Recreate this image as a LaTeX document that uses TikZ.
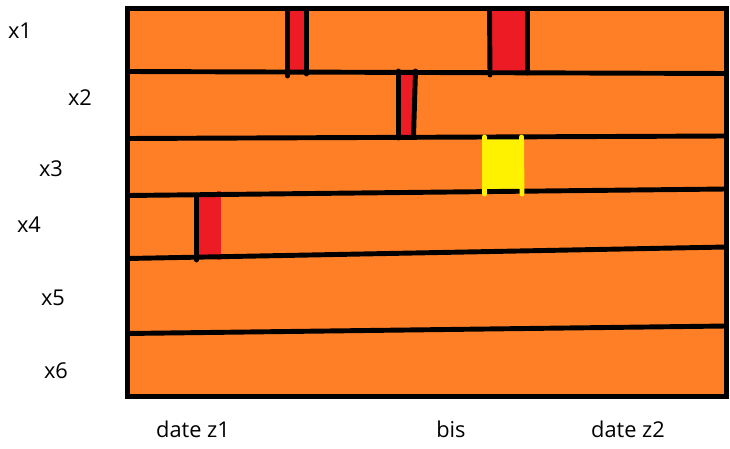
\documentclass[tikz,border=0pt]{standalone}
\usepackage{fontspec}
\setmainfont{Open Sans}
\usetikzlibrary{positioning}

\definecolor{paintorange}{HTML}{FF7F27}
\definecolor{paintred}{HTML}{ED1C24}
\definecolor{paintyellow}{HTML}{FFF200}

\begin{document}
\begin{tikzpicture}[x=0.02cm, y=-0.02cm, line cap=round, line join=round,
    wall/.style={line width=2.8pt},
    frame/.style={line width=2.8pt, line join=miter, line cap=rect},
    gap/.style={line width=2.8pt, paintyellow},
    lbl/.style={font=\fontsize{12.4}{14}\selectfont, inner sep=0pt}]
  \useasboundingbox (0,0) rectangle (730,449);
  % --- frame and background -------------------------------------------
  \fill[paintorange] (127.5,8.5) rectangle (726.5,396.5);
  % --- red blocks -------------------------------------------------------
  \fill[paintred] (287.5,8.5) rectangle (306.5,73);
  \fill[paintred] (489.5,8.5) rectangle (527.5,73);
  \fill[paintred] (398.5,72) -- (415.5,72) -- (413.5,138) -- (398.5,138) -- cycle;
  \fill[paintred] (196.5,194) rectangle (219,259);
  \fill[paintred] (217,191) rectangle (221,260);
  % yellow block
  \fill[paintyellow] (483,139) rectangle (524,189);
  % --- row separators ---------------------------------------------------
  \draw[wall] (127.5,71.5) -- (726.5,73.5);
  \draw[wall] (127.5,138.5) -- (726.5,136);
  \draw[wall] (127.5,195.5) -- (726.5,189);
  \draw[wall] (127.5,258.5) -- (726.5,247);
  \draw[wall] (127.5,333.5) -- (726.5,326);
  % block edges
  \draw[wall] (287.5,8.5) -- (287.5,76);
  \draw[wall] (306.5,8.5) -- (306.5,74);
  \draw[wall] (489.5,8.5) -- (490,75);
  \draw[wall] (527.5,8.5) -- (527.5,73);
  \draw[wall] (398.5,71) -- (398.5,138);
  \draw[wall] (415.5,71) -- (413.5,137);
  \draw[wall] (196.5,195) -- (196.5,260);
  \draw[gap] (484.5,137) -- (484.5,194);
  \draw[gap] (521.5,137) -- (522,194);
  \draw[frame] (127.5,8.5) rectangle (726.5,396.5);
  % --- labels -----------------------------------------------------------
  \node[lbl] (x1) at (20,31) {x1};
  \node[lbl] (x2) at (80,98) {x2};
  \node[lbl] (x3) at (51,169) {x3};
  \node[lbl] (x4) at (29,225) {x4};
  \node[lbl] (x5) at (53,298) {x5};
  \node[lbl] (x6) at (56,371) {x6};
  \node[lbl] (z1) at (193,429) {date z1};
  \node[lbl] (bis) at (451,429) {bis};
  \node[lbl] (z2) at (628,429) {date z2};
\end{tikzpicture}
\end{document}
